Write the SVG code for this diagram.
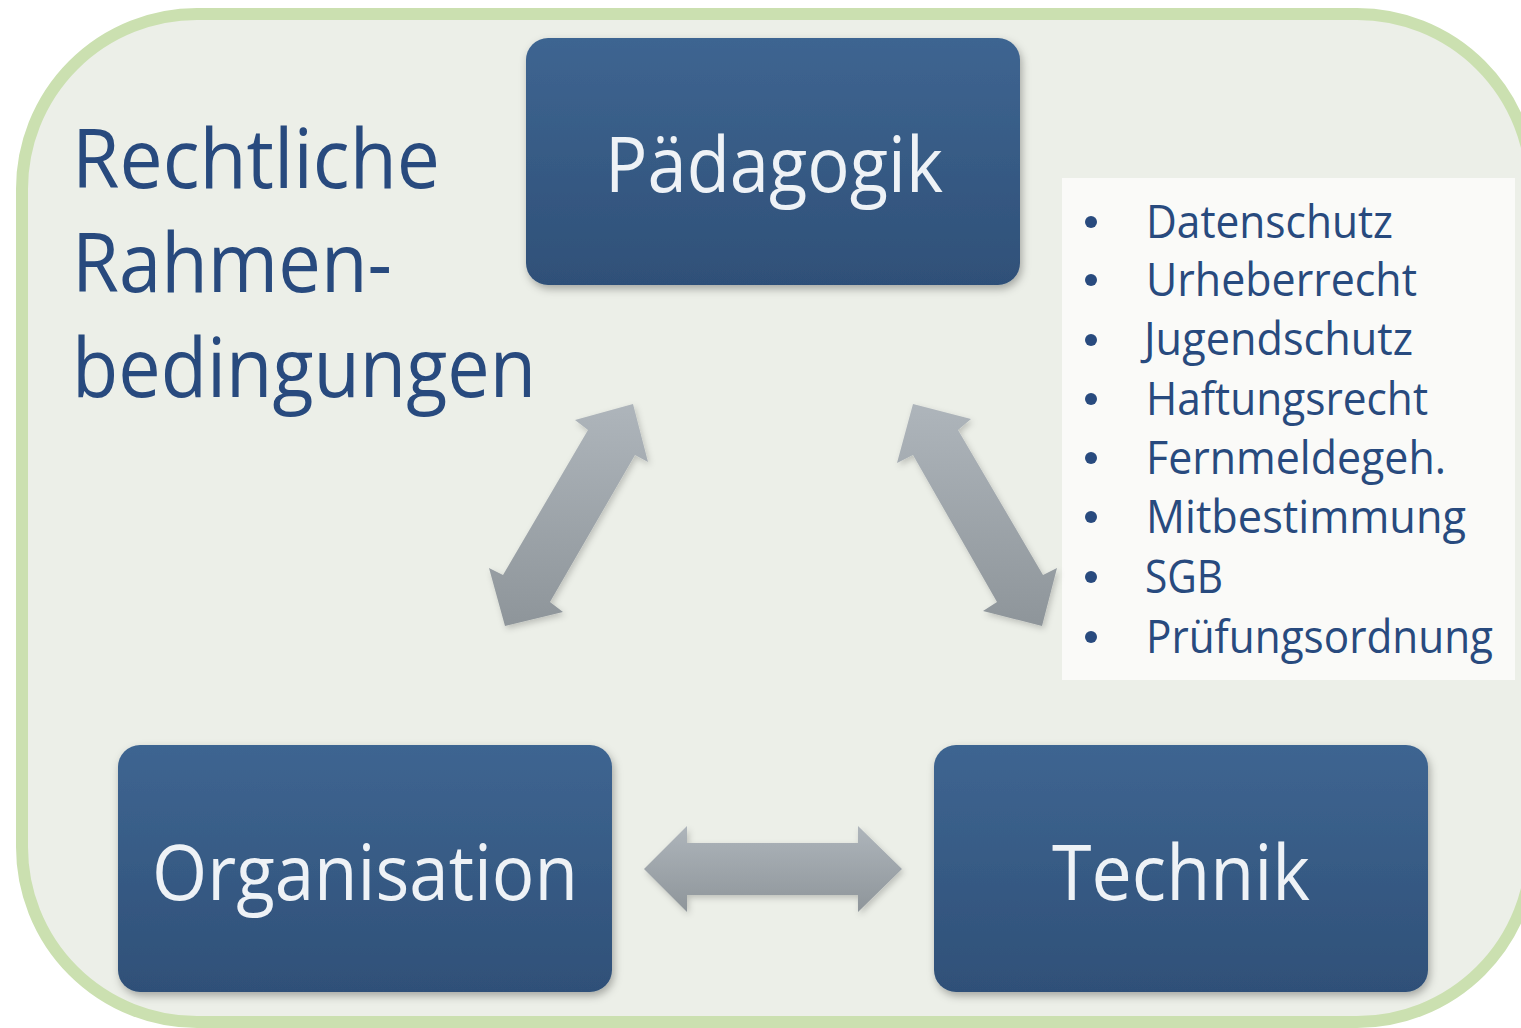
<svg xmlns="http://www.w3.org/2000/svg" width="1521" height="1028" viewBox="0 0 1521 1028">
<defs>
<linearGradient id="boxg" x1="0" y1="0" x2="0" y2="1">
<stop offset="0" stop-color="#3E6591"/>
<stop offset="1" stop-color="#2F5078"/>
</linearGradient>
<linearGradient id="arrg" x1="0" y1="0" x2="0" y2="1">
<stop offset="0" stop-color="#AEB5BB"/>
<stop offset="1" stop-color="#8E959A"/>
</linearGradient>
<filter id="sh" x="-10%" y="-10%" width="130%" height="130%">
<feDropShadow dx="2" dy="4" stdDeviation="4" flood-color="#000" flood-opacity="0.3"/>
</filter>
<filter id="sh2" x="-10%" y="-10%" width="130%" height="130%">
<feDropShadow dx="2" dy="3" stdDeviation="3" flood-color="#000" flood-opacity="0.2"/>
</filter>
<filter id="inner" x="-5%" y="-5%" width="110%" height="110%">
<feDropShadow dx="2" dy="3" stdDeviation="3" flood-color="#000" flood-opacity="0.25"/>
</filter>
</defs>
<style>
.box{fill:url(#boxg);filter:url(#sh);}
.lbl{font-family:"Open Sans","Noto Sans",sans-serif;fill:#EEF2F6;font-size:77px;text-anchor:start;}
.side{font-family:"Open Sans","Noto Sans",sans-serif;fill:#284A7E;font-size:82px;}
.li{font-family:"Open Sans","Noto Sans",sans-serif;fill:#284A7E;font-size:46px;}
.bul{fill:#284A7E;}
.arr{fill:url(#arrg);filter:url(#sh2);}
</style>
<rect width="1521" height="1028" fill="#FFFFFF"/>
<g id="frame">
<rect x="22" y="14" width="1510" height="1008" rx="175" ry="175" fill="#ECEFE8" stroke="#CBE0B0" stroke-width="12"/>
</g>
<g id="title">
<text class="side" x="72" y="188" textLength="368" lengthAdjust="spacingAndGlyphs">Rechtliche</text>
<text class="side" x="72" y="292" textLength="320" lengthAdjust="spacingAndGlyphs">Rahmen-</text>
<text class="side" x="72" y="397" textLength="464" lengthAdjust="spacingAndGlyphs">bedingungen</text>
</g>
<g id="list">
<rect x="1062" y="178" width="453" height="502" fill="#FAFAF8"/>
<g class="bul">
<circle cx="1091" cy="222" r="6"/>
<circle cx="1091" cy="280" r="6"/>
<circle cx="1091" cy="340" r="6"/>
<circle cx="1091" cy="399" r="6"/>
<circle cx="1091" cy="458" r="6"/>
<circle cx="1091" cy="517" r="6"/>
<circle cx="1091" cy="577" r="6"/>
<circle cx="1091" cy="637" r="6"/>
</g>
<text class="li" x="1146" y="238" textLength="247" lengthAdjust="spacingAndGlyphs">Datenschutz</text>
<text class="li" x="1146" y="296" textLength="271" lengthAdjust="spacingAndGlyphs">Urheberrecht</text>
<text class="li" x="1144" y="355" textLength="269" lengthAdjust="spacingAndGlyphs">Jugendschutz</text>
<text class="li" x="1146" y="415" textLength="282" lengthAdjust="spacingAndGlyphs">Haftungsrecht</text>
<text class="li" x="1146" y="474" textLength="300" lengthAdjust="spacingAndGlyphs">Fernmeldegeh.</text>
<text class="li" x="1146" y="533" textLength="320" lengthAdjust="spacingAndGlyphs">Mitbestimmung</text>
<text class="li" x="1145" y="593" textLength="78" lengthAdjust="spacingAndGlyphs">SGB</text>
<text class="li" x="1146" y="653" textLength="347" lengthAdjust="spacingAndGlyphs">Prüfungsordnung</text>
</g>
<g id="connectors">
<polygon class="arr" points="633,404 648,462 635,455 550,602 563,612 505,626 489,568 503,575 588,430 575,420"/>
<polygon class="arr" points="913,404 971,419 958,430 1043,575 1057,568 1042,626 983,611 997,602 913,455 897,463"/>
<polygon class="arr" points="644,869 687,826 687,843 858,843 858,826 902,869 858,912 858,895 687,895 687,912"/>
</g>
<g id="paedagogik">
<rect class="box" x="526" y="38" width="494" height="247" rx="22" ry="22"/>
<text class="lbl" x="605" y="192" textLength="338" lengthAdjust="spacingAndGlyphs">Pädagogik</text>
</g>
<g id="organisation">
<rect class="box" x="118" y="745" width="494" height="247" rx="22" ry="22"/>
<text class="lbl" x="152" y="900" textLength="426" lengthAdjust="spacingAndGlyphs">Organisation</text>
</g>
<g id="technik">
<rect class="box" x="934" y="745" width="494" height="247" rx="22" ry="22"/>
<text class="lbl" x="1052" y="900" textLength="258" lengthAdjust="spacingAndGlyphs">Technik</text>
</g>
</svg>
